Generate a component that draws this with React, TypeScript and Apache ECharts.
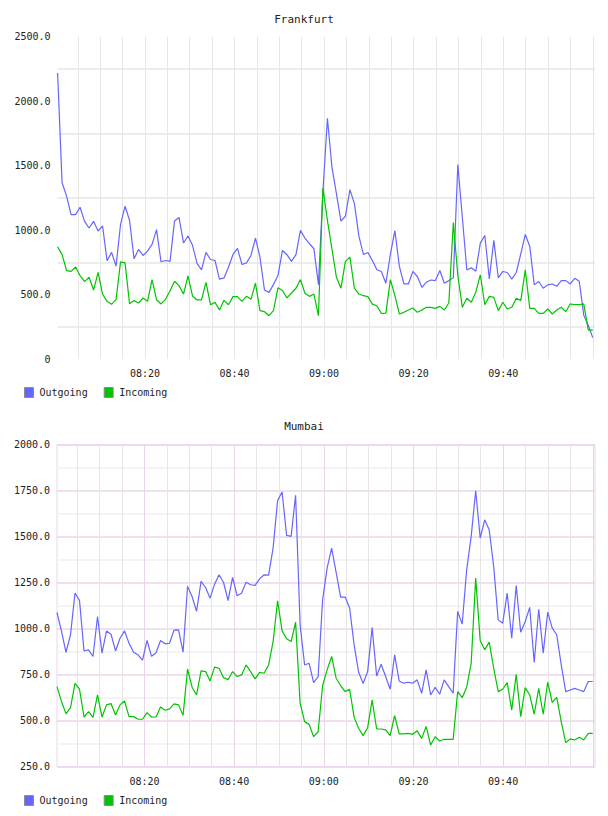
import React, { useEffect, useRef } from 'react';
import * as echarts from 'echarts';

// Minutes after 08:00 of the first sample and the sampling step (60.25 s)
const START_MIN = 0.5;
const SAMPLE_MIN = 60.25 / 60;
const AXIS_MIN = 0.5;
const AXIS_MAX = 120.5;

// Time-axis label positions and 5-minute grid positions (minutes after 08:00)
const LABEL_MINUTES = [20, 40, 60, 80, 100];
const GRID_MINUTES = [5, 10, 15, 20, 25, 30, 35, 40, 45, 50, 55, 60, 65, 70, 75, 80, 85, 90, 95, 100, 105, 110, 115, 120];

const frankfurtOutgoing = [
  2218, 1367, 1263, 1120, 1120, 1177, 1068, 1016, 1068, 993,
  1032, 762, 827, 720, 1045, 1185, 1076, 777, 850, 803,
  837, 889, 1003, 754, 764, 757, 1071, 1097, 900, 954,
  882, 742, 692, 827, 772, 764, 619, 629, 712, 811,
  858, 733, 746, 803, 938, 790, 535, 517, 577, 647,
  842, 809, 757, 809, 998, 938, 894, 855, 577, 1300,
  1867, 1491, 1283, 1070, 1107, 1314, 1205, 953, 811, 826,
  764, 692, 679, 588, 811, 995, 718, 582, 582, 679,
  640, 556, 595, 613, 608, 686, 587, 608, 630, 1509,
  1100, 690, 707, 681, 899, 958, 621, 920, 629, 679,
  671, 619, 671, 816, 966, 873, 575, 601, 549, 575,
  582, 564, 608, 608, 582, 626, 603, 340, 262, 166,
];

const frankfurtIncoming = [
  870, 810, 685, 680, 714, 646, 600, 634, 535, 672,
  503, 447, 424, 463, 753, 746, 429, 453, 434, 473,
  447, 616, 460, 427, 463, 530, 603, 569, 504, 644,
  489, 458, 458, 595, 421, 439, 380, 455, 421, 484,
  484, 447, 486, 463, 588, 375, 367, 336, 375, 552,
  531, 474, 512, 549, 616, 510, 486, 504, 336, 1327,
  1075, 855, 634, 549, 757, 790, 549, 504, 491, 484,
  426, 413, 353, 356, 616, 491, 349, 362, 380, 396,
  362, 380, 401, 401, 393, 408, 380, 434, 1058, 647,
  401, 471, 440, 518, 653, 421, 486, 478, 375, 440,
  388, 401, 471, 453, 692, 393, 393, 354, 354, 388,
  349, 380, 401, 367, 427, 421, 421, 427, 224, 224,
];

const mumbaiOutgoing = [
  1088, 985, 872, 967, 1193, 1153, 879, 885, 849, 1066,
  867, 988, 970, 879, 948, 988, 921, 872, 858, 829,
  936, 850, 869, 936, 918, 921, 992, 994, 872, 1230,
  1175, 1094, 1257, 1224, 1166, 1242, 1293, 1251, 1153, 1279,
  1179, 1193, 1253, 1239, 1235, 1271, 1293, 1291, 1438, 1696,
  1743, 1507, 1502, 1725, 1021, 803, 812, 707, 740, 1157,
  1329, 1438, 1306, 1172, 1172, 1112, 912, 763, 702, 767,
  1006, 743, 807, 740, 671, 858, 716, 704, 709, 704,
  722, 649, 776, 640, 682, 644, 722, 685, 649, 1094,
  1025, 1320, 1502, 1750, 1493, 1592, 1538, 1338, 1048, 1030,
  1193, 948, 1235, 981, 1039, 1115, 816, 1106, 867, 1090,
  1003, 967, 803, 658, 667, 676, 667, 658, 713, 713,
];

const mumbaiIncoming = [
  685, 604, 537, 571, 703, 671, 520, 549, 518, 640,
  520, 586, 593, 531, 586, 607, 522, 522, 509, 508,
  544, 520, 520, 575, 557, 564, 591, 586, 529, 781,
  682, 640, 771, 767, 716, 791, 785, 734, 723, 767,
  740, 749, 803, 767, 727, 763, 758, 803, 930, 1152,
  988, 945, 930, 1035, 595, 495, 480, 413, 440, 691,
  776, 849, 731, 691, 658, 671, 518, 459, 419, 462,
  613, 455, 455, 450, 419, 528, 428, 428, 431, 426,
  445, 404, 468, 368, 413, 390, 399, 399, 399, 658,
  625, 682, 812, 1275, 936, 885, 927, 785, 658, 671,
  707, 558, 752, 522, 680, 640, 535, 676, 535, 709,
  600, 627, 495, 381, 401, 395, 410, 395, 431, 431,
];

const FONT = "'DejaVu Sans Mono', monospace";
const TEXT = '#222222';
const BLUE = '#6666ff';
const GREEN = '#00c400';
const GRID_GRAY = '#e6e6e6';
const PINK = '#ead4ea';
const LIGHT = '#f0f0f0';

const sampleTimes = frankfurtOutgoing.map((_, i) => START_MIN + i * SAMPLE_MIN);
const pairs = (values: number[]) => values.map((v, i) => [sampleTimes[i], v]);

function clock(m: number): string {
  const total = Math.round(m);
  const h = 8 + Math.floor(total / 60);
  const mm = total % 60;
  return `${String(h).padStart(2, '0')}:${String(mm).padStart(2, '0')}`;
}

const textStyle = { fontFamily: FONT, fontSize: 10, color: TEXT };

function timeAxis(gridIndex: number, splitColors: string[], margin: number) {
  return {
    gridIndex,
    type: 'value',
    min: AXIS_MIN,
    max: AXIS_MAX,
    axisLine: { show: false },
    axisTick: { show: false, customValues: GRID_MINUTES },
    axisLabel: { ...textStyle, customValues: LABEL_MINUTES, formatter: (v: number) => clock(v), margin },
    splitLine: { show: true, lineStyle: { color: splitColors, width: 1 } },
  };
}

function legend(top: number) {
  return {
    top,
    left: 24,
    padding: 0,
    itemWidth: 9,
    itemHeight: 10,
    itemGap: 16,
    icon: 'rect',
    textStyle: { ...textStyle, padding: [0, 0, 0, 1] },
    itemStyle: { borderColor: '#8c8c8c', borderWidth: 1 },
    data: ['Outgoing', 'Incoming'],
  };
}

function lineSeries(name: string, color: string, idx: number, values: number[]) {
  return {
    type: 'line',
    name,
    xAxisIndex: idx,
    yAxisIndex: idx,
    data: pairs(values),
    symbol: 'none',
    showSymbol: false,
    silent: true,
    lineStyle: { color, width: 1.2 },
    itemStyle: { color },
  };
}

export default function App() {
  const ref = useRef<HTMLDivElement>(null);

  useEffect(() => {
    if (!ref.current) return;
    const chart = echarts.init(ref.current, null, { renderer: 'svg' });
    chart.setOption({
      animation: false,
      backgroundColor: '#ffffff',
      title: [
        { text: 'Frankfurt', left: 'center', top: 14, padding: 0, textStyle: { fontFamily: FONT, fontSize: 11, fontWeight: 'normal', color: TEXT } },
        { text: 'Mumbai', left: 'center', top: 421, padding: 0, textStyle: { fontFamily: FONT, fontSize: 11, fontWeight: 'normal', color: TEXT } },
      ],
      legend: [legend(387), legend(795)],
      grid: [
        { left: 57.6, top: 36.7, width: 537.4, height: 322.3, show: false },
        { left: 57, top: 444.7, width: 538, height: 322, show: true, borderColor: PINK, borderWidth: 1 },
      ],
      xAxis: [
        timeAxis(0, [GRID_GRAY], 9),
        timeAxis(1, [GRID_GRAY, GRID_GRAY, GRID_GRAY, PINK], 10),
      ],
      yAxis: [
        {
          gridIndex: 0,
          type: 'value',
          min: 0,
          max: 2500,
          interval: 250,
          axisLine: { show: false },
          axisTick: { show: false },
          axisLabel: {
            ...textStyle,
            margin: 7,
            formatter: (v: number) => (v === 0 ? '0' : v % 500 === 0 ? v.toFixed(1) : ''),
          },
          splitLine: { show: true, lineStyle: { color: ['rgba(0,0,0,0)', GRID_GRAY], width: 1.5 } },
        },
        {
          gridIndex: 1,
          type: 'value',
          min: 250,
          max: 2000,
          interval: 125,
          axisLine: { show: false },
          axisTick: { show: false },
          axisLabel: {
            ...textStyle,
            margin: 7,
            formatter: (v: number) => (v % 250 === 0 ? v.toFixed(1) : ''),
          },
          splitLine: { show: true, lineStyle: { color: [PINK, LIGHT], width: 1.5 } },
        },
      ],
      series: [
        lineSeries('Outgoing', BLUE, 0, frankfurtOutgoing),
        lineSeries('Incoming', GREEN, 0, frankfurtIncoming),
        lineSeries('Outgoing', BLUE, 1, mumbaiOutgoing),
        lineSeries('Incoming', GREEN, 1, mumbaiIncoming),
      ],
    });
    return () => chart.dispose();
  }, []);

  return (
    <div
      ref={ref}
      style={{ position: 'fixed', left: 0, top: 0, width: 608, height: 816, background: '#fff' }}
    />
  );
}
